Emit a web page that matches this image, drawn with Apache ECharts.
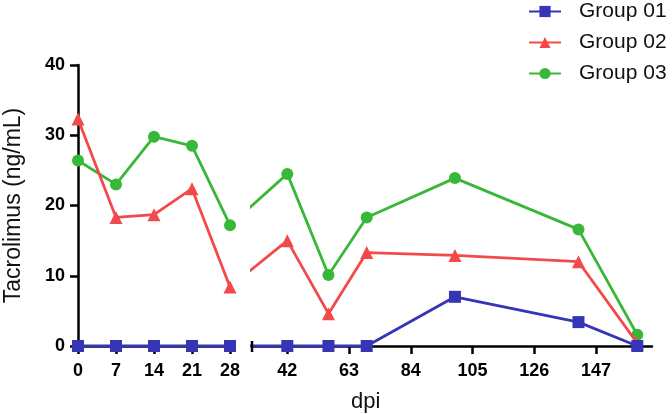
<!DOCTYPE html>
<html>
<head>
<meta charset="utf-8">
<script src="https://cdn.jsdelivr.net/npm/echarts@6/dist/echarts.min.js"></script>
<style>
  html, body { margin: 0; padding: 0; background: #fff; }
  #main { width: 672px; height: 414px; }
</style>
</head>
<body>
<div id="main"></div>
<script>
// days before and after the axis break
var daysA = [0, 7, 14, 21, 28];
var daysB = [42, 56, 69, 99, 141, 161];
var ticksA = [0, 7, 14, 21, 28];
var ticksB = [42, 63, 84, 105, 126, 147];

var group01A = [0, 0, 0, 0, 0];
var group01B = [0, 0, 0, 7.0, 3.4, 0];
var group02A = [32.3, 18.3, 18.7, 22.4, 8.4];
var group02B = [15.0, 4.6, 13.3, 12.9, 12.0, 0.4];
var group03A = [26.4, 23.0, 29.8, 28.5, 17.2];
var group03B = [24.5, 10.1, 18.3, 23.9, 16.6, 1.6];

var names = ['Group 01', 'Group 02', 'Group 03'];
var colors = ['#3535b5', '#f24a4a', '#38b838'];
var symbols = ['rect', 'triangle', 'circle'];
var symbolSizes = [12, 13, 12];

var font = 'Liberation Sans, Arial, sans-serif';
var chart = echarts.init(document.getElementById('main'));

let pairs = function(xs, ys){
	return xs.map(function(x, i){ return [x, ys[i]]; });
};

let makeSeries = function(idx, data, axisIdx){
	return {
		name: names[idx],
		type: 'line',
		xAxisIndex: axisIdx,
		yAxisIndex: axisIdx,
		data: data,
		symbol: symbols[idx],
		symbolSize: symbolSizes[idx],
		clip: true,
		z: 3 + (2 - idx),
		itemStyle: { color: colors[idx] },
		lineStyle: { color: colors[idx], width: 2.8 }
	};
};

var seriesA = [group01A, group02A, group03A];
var seriesB = [group01B, group02B, group03B];

let buildSeries = function(bridge){
	let list = [];
	for (let i = 0; i < 3; i++) {
		list.push(makeSeries(i, pairs(daysA, seriesA[i]), 0));
	}
	for (let i = 0; i < 3; i++) {
		let d = pairs(daysB, seriesB[i]);
		if (bridge) {
			d.unshift({ value: bridge[i], symbol: 'none' });
		}
		list.push(makeSeries(i, d, 1));
	}
	return list;
};

var axisLine = { show: true, lineStyle: { color: '#000', width: 2.5 } };
var axisTick = { show: true, length: 8, lineStyle: { color: '#000', width: 2.5 } };
var tickLabel = { color: '#000', fontFamily: font, fontWeight: 'bold', fontSize: 18 };

var option = {
	animation: false,
	backgroundColor: '#fff',
	title: {
		text: 'dpi',
		left: 346,
		top: 386,
		textStyle: { fontFamily: font, fontWeight: 'normal', fontSize: 22, color: '#111' }
	},
	legend: {
		data: names,
		orient: 'vertical',
		left: 523,
		top: -4,
		itemWidth: 32,
		itemHeight: 14,
		itemGap: 10,
		textStyle: { fontFamily: font, fontSize: 21, color: '#111', padding: [0, 0, 0, 13] }
	},
	grid: [
		{ left: 78, top: 65, width: 152, height: 281 },
		{ left: 252, top: 65, width: 400, height: 281 }
	],
	xAxis: [
		{
			type: 'value', gridIndex: 0, min: 0, max: 28, interval: 7,
			axisLine: axisLine, axisTick: axisTick, splitLine: { show: false },
			axisLabel: Object.assign({ margin: 16 }, tickLabel)
		},
		{
			type: 'value', gridIndex: 1, min: 30, max: 166,
			axisLine: axisLine, splitLine: { show: false },
			axisTick: Object.assign({ customValues: ticksB }, axisTick),
			axisLabel: Object.assign({ margin: 16, customValues: ticksB }, tickLabel)
		}
	],
	yAxis: [
		{
			type: 'value', gridIndex: 0, min: 0, max: 40, interval: 10,
			name: 'Tacrolimus (ng/mL)', nameLocation: 'middle', nameGap: 53,
			nameTextStyle: { fontFamily: font, fontSize: 23, color: '#111' },
			axisLine: axisLine, axisTick: axisTick, splitLine: { show: false },
			axisLabel: Object.assign({ margin: 13 }, tickLabel)
		},
		{ type: 'value', gridIndex: 1, min: 0, max: 40, show: false, splitLine: { show: false } }
	],
	series: buildSeries(null)
};

chart.setOption(option);

// line keeps going across the break: put the last point before the break into the second grid's coordinates
let bridge = seriesA.map(function(vals){
	let last = vals.length - 1;
	let px = chart.convertToPixel({ xAxisIndex: 0, yAxisIndex: 0 }, [daysA[last], vals[last]]);
	return chart.convertFromPixel({ xAxisIndex: 1, yAxisIndex: 1 }, px);
});

let p0 = chart.convertToPixel({ xAxisIndex: 1, yAxisIndex: 1 }, [30, 0]);

chart.setOption({
	series: buildSeries(bridge),
	graphic: [{
		type: 'line',
		shape: { x1: p0[0], y1: p0[1] - 5, x2: p0[0], y2: p0[1] + 6 },
		style: { stroke: '#000', lineWidth: 2.5 },
		z: 10
	}]
});
</script>
</body>
</html>
